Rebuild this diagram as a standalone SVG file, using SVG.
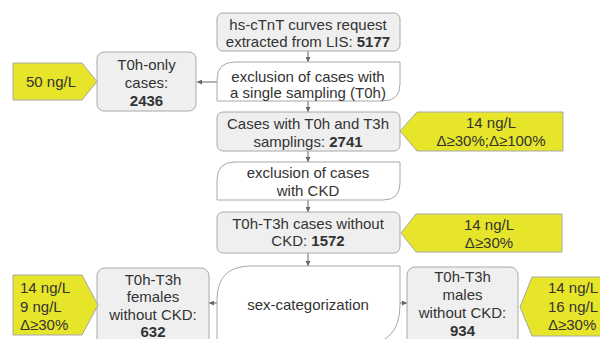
<svg xmlns="http://www.w3.org/2000/svg" width="600" height="339" viewBox="0 0 600 339">
<defs>
<style>
.box{fill:#efefef;stroke:#a8a8a8;stroke-width:1}
.dec{fill:#ffffff;stroke:#a8a8a8;stroke-width:1}
.yel{fill:#e6e52a;stroke:#a8a8a8;stroke-width:1}
.t{font-family:"Liberation Sans",Arial,sans-serif;font-size:15px;fill:#333;text-anchor:middle}
.tl{font-family:"Liberation Sans",Arial,sans-serif;font-size:15px;fill:#333;text-anchor:start}
.b{font-weight:bold}
.c{stroke:#666;stroke-width:1;fill:none;marker-end:url(#ah)}
</style>
<marker id="ah" viewBox="0 0 6 6" refX="6" refY="3" markerWidth="5" markerHeight="5" orient="auto" markerUnits="userSpaceOnUse">
<path d="M0,0 L6,3 L0,6 Z" fill="#666"/>
</marker>
</defs>
<rect width="600" height="339" fill="#fff"/>
<g id="connectors">
<line class="c" x1="308" y1="51" x2="308" y2="62"/>
<line class="c" x1="217" y1="82" x2="197" y2="82"/>
<line class="c" x1="308" y1="101" x2="308" y2="112"/>
<line class="c" x1="308" y1="151" x2="308" y2="162"/>
<line class="c" x1="308" y1="200" x2="308" y2="212"/>
<line class="c" x1="308" y1="253" x2="308" y2="266"/>
<line class="c" x1="217" y1="303" x2="209" y2="303"/>
<line class="c" x1="400" y1="303" x2="407" y2="303"/>
</g>
<g id="n1">
<rect class="box" x="217" y="13" width="183" height="38" rx="6"/>
<text class="t" x="308" y="30">hs-cTnT curves request</text>
<text class="t" x="308" y="47">extracted from LIS: <tspan class="b">5177</tspan></text>
</g>
<g id="n2">
<path class="dec" d="M217,101 L217,80 Q217,62 235,62 L400,62 L400,84 Q400,101 383,101 Z"/>
<text class="t" x="308" y="82">exclusion of cases with</text>
<text class="t" x="308" y="98">a single sampling (T0h)</text>
</g>
<g id="n_t0only">
<rect class="box" x="97" y="52" width="99" height="59" rx="7"/>
<text class="t" x="146.5" y="70">T0h-only</text>
<text class="t" x="146.5" y="88">cases:</text>
<text class="t b" x="146.5" y="106">2436</text>
</g>
<g id="y1">
<path class="yel" d="M13,63 L82,63 L97,81.5 L82,100 L13,100 Z"/>
<text class="t" x="51" y="87">50 ng/L</text>
</g>
<g id="n3">
<rect class="box" x="217" y="112" width="183" height="39" rx="6"/>
<text class="t" x="308" y="129">Cases with T0h and T3h</text>
<text class="t" x="308" y="147">samplings: <tspan class="b">2741</tspan></text>
</g>
<g id="y2">
<path class="yel" d="M563,112 L417,112 L400,131 L417,151 L563,151 Z"/>
<text class="t" x="491" y="128">14 ng/L</text>
<text class="t" x="491" y="146">Δ≥30%;Δ≥100%</text>
</g>
<g id="n4">
<path class="dec" d="M217,200 L217,180 Q217,162 235,162 L400,162 L400,183 Q400,200 383,200 Z"/>
<text class="t" x="308" y="178">exclusion of cases</text>
<text class="t" x="308" y="196">with CKD</text>
</g>
<g id="n5">
<rect class="box" x="217" y="212" width="183" height="41" rx="6"/>
<text class="t" x="308" y="229">T0h-T3h cases without</text>
<text class="t" x="308" y="246">CKD: <tspan class="b">1572</tspan></text>
</g>
<g id="y3">
<path class="yel" d="M562,214 L416,214 L401,233 L416,252 L562,252 Z"/>
<text class="t" x="489" y="230">14 ng/L</text>
<text class="t" x="489" y="248">Δ≥30%</text>
</g>
<g id="n6">
<path class="dec" d="M217,345 L217,300 Q217,266 251,266 L400,266 L400,305 Q400,345 360,345 Z"/>
<text class="t" x="308" y="310">sex-categorization</text>
</g>
<g id="n_fem">
<rect class="box" x="97" y="268" width="112" height="80" rx="8"/>
<text class="t" x="153" y="285">T0h-T3h</text>
<text class="t" x="153" y="302">females</text>
<text class="t" x="153" y="320">without CKD:</text>
<text class="t b" x="153" y="337">632</text>
</g>
<g id="y4">
<path class="yel" d="M13,275 L82,275 L98,305 L82,335 L13,335 Z"/>
<text class="tl" x="20" y="293">14 ng/L</text>
<text class="tl" x="20" y="312">9 ng/L</text>
<text class="tl" x="20" y="330">Δ≥30%</text>
</g>
<g id="n_male">
<rect class="box" x="407" y="267" width="111" height="80" rx="8"/>
<text class="t" x="462.5" y="282">T0h-T3h</text>
<text class="t" x="462.5" y="300">males</text>
<text class="t" x="462.5" y="318">without CKD:</text>
<text class="t b" x="462.5" y="336">934</text>
</g>
<g id="y5">
<path class="yel" d="M610,277 L532,277 L520,307 L532,336 L610,336 Z"/>
<text class="tl" x="548" y="293">14 ng/L</text>
<text class="tl" x="548" y="312">16 ng/L</text>
<text class="tl" x="548" y="330">Δ≥30%</text>
</g>
</svg>
